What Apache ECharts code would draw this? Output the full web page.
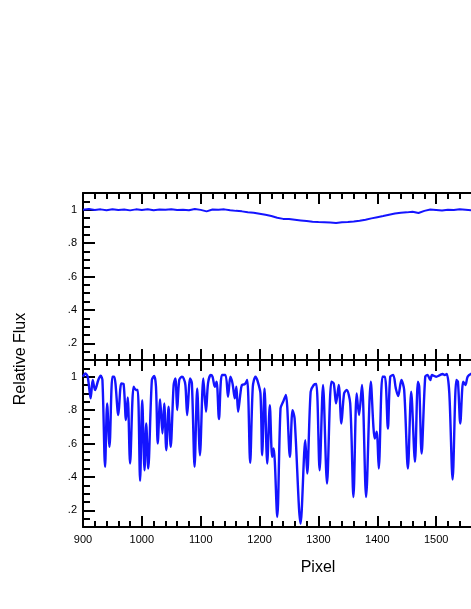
<!DOCTYPE html>
<html>
<head>
<meta charset="utf-8">
<script src="https://cdn.jsdelivr.net/npm/echarts@6/dist/echarts.min.js"></script>
<style>
  html, body { margin: 0; padding: 0; background: #fff; }
  #main { width: 471px; height: 609px; }
</style>
</head>
<body>
<div id="main"></div>
<script>
// upper panel: continuum-normalised flux, sampled every 10 px starting at 900
var topStart = 900;
var topStep = 10;
var topFlux = [
  1.000, 1.004, 0.998, 1.002, 0.997, 1.003, 0.998, 1.001, 0.996, 1.002,
  0.998, 1.003, 0.997, 1.001, 0.999, 1.003, 0.998, 1.000, 0.997, 1.004,
  0.999, 0.990, 1.001, 1.000, 1.002, 0.997, 0.993, 0.990, 0.985, 0.982,
  0.976, 0.970, 0.962, 0.952, 0.945, 0.944, 0.940, 0.936, 0.932, 0.928,
  0.926, 0.925, 0.923, 0.921, 0.925, 0.927, 0.930, 0.934, 0.940, 0.948,
  0.955, 0.962, 0.970, 0.977, 0.982, 0.984, 0.988, 0.980, 0.993, 1.001,
  0.998, 0.995, 1.000, 0.998, 1.003, 1.000, 0.997
];

// lower panel: spectrum with absorption lines
var botPixel = [
  900, 904, 908, 913, 916.5, 920.5, 926, 930, 933, 937.5, 941, 945, 950, 953,
  960, 965, 969, 973, 976, 980, 986, 990, 993, 997, 1000.6, 1004.5, 1007.4,
  1010.8, 1017, 1021, 1024, 1027, 1031, 1035, 1038, 1041.5, 1045.4, 1049,
  1054, 1057, 1060, 1063.5, 1068, 1071, 1074, 1077, 1082, 1085, 1089.6, 1094,
  1098.7, 1104.4, 1109, 1112.4, 1117, 1120, 1124, 1127, 1131, 1136, 1142,
  1146.4, 1150.4, 1154, 1158, 1160.6, 1163.5, 1167.5, 1170, 1175, 1179, 1184,
  1188.5, 1193, 1197, 1201.5, 1204.4, 1208.4, 1213, 1217.4, 1221.4, 1224,
  1230, 1235.6, 1240, 1244.7, 1251.5, 1256, 1259.5, 1269.7, 1277.7, 1281,
  1286.8, 1292, 1296.4, 1302, 1307.8, 1314.6, 1322, 1326, 1330, 1334.5, 1339,
  1343.6, 1348, 1354, 1359.5, 1365, 1369, 1374, 1381, 1389, 1395.7, 1399,
  1402.5, 1408.8, 1413, 1418, 1422, 1427, 1431.5, 1435.5, 1441, 1445.7, 1452,
  1457.6, 1464, 1469, 1471.3, 1475.3, 1481.5, 1485.5, 1490, 1493, 1500,
  1506.5, 1511, 1514.5, 1518, 1522.4, 1528, 1534.3, 1537, 1541, 1546, 1549.7,
  1553.6, 1561
];
var botFlux = [
  1.0, 1.02, 1.0, 0.87, 0.98, 0.92, 0.98, 1.006, 0.98, 0.46, 0.84, 0.58, 1.0, 1.0,
  0.77, 0.96, 0.956, 0.74, 0.876, 0.48, 0.94, 0.92, 0.92, 0.376, 0.86, 0.44, 0.72,
  0.45, 0.98, 1.004, 0.94, 0.6, 0.864, 0.66, 0.84, 0.56, 0.82, 0.58,
  0.95, 0.99, 0.8, 0.98, 1.0, 0.99, 0.95, 0.77, 0.99, 0.96, 0.46, 0.93,
  0.53, 0.99, 0.79, 0.96, 1.01, 1.0, 0.94, 0.97, 0.746, 1.01, 1.01,
  0.88, 1.0, 0.96, 0.87, 0.94, 0.79, 0.9, 0.95, 0.956, 0.98, 0.484,
  0.94, 1.0, 0.97, 0.9, 0.53, 0.93, 0.48, 0.83, 0.52, 0.57,
  0.16, 0.81, 0.85, 0.89, 0.52, 0.8, 0.75, 0.12, 0.62, 0.42,
  0.91, 0.95, 0.956, 0.44, 0.95, 0.36, 0.97, 0.96, 0.84, 0.95, 0.72,
  0.9, 0.92, 0.84, 0.28, 0.9, 0.77, 0.95, 0.28, 0.97, 0.63, 0.67,
  0.45, 1.0, 1.0, 0.69, 1.0, 1.01, 0.93, 0.884, 0.98, 0.92, 0.45,
  0.91, 0.49, 0.97, 0.94, 0.54, 1.0, 1.01, 0.98, 1.01, 1.0,
  1.01, 1.016, 1.01, 1.016, 0.9, 0.384, 0.98, 0.97, 0.72, 0.97, 0.95,
  1.0, 1.02
];

var yLabelValues = [0.2, 0.4, 0.6, 0.8, 1.0];

var lineColor = '#1414ff';
var font = '"Liberation Sans", Arial, sans-serif';

var topData = topFlux.map(function (v, i) { return [topStart + i * topStep, v]; });
var botData = botPixel.map(function (p, i) { return [p, botFlux[i]]; });

function xAx(grid, pos, labels) {
  return {
    type: 'value', gridIndex: grid, position: pos,
    min: 900, max: 1600, interval: 100,
    axisLine: { show: true, onZero: false, lineStyle: { color: '#000', width: 2 } },
    axisTick: { show: true, inside: true, length: 11, lineStyle: { color: '#000', width: 2 } },
    minorTick: { show: true, splitNumber: 5, length: 6, lineStyle: { color: '#000', width: 2 } },
    axisLabel: { show: labels, color: '#000', fontSize: 11, fontFamily: font, margin: 7,
      formatter: function (v) { return String(v); } },
    splitLine: { show: false }
  };
}
function yMinor(grid) {
  return {
    type: 'value', gridIndex: grid, position: 'left',
    min: 0.1, max: 1.1, interval: 0.05,
    axisLine: { show: true, onZero: false, lineStyle: { color: '#000', width: 2 } },
    axisTick: { show: true, inside: true, length: 7, lineStyle: { color: '#000', width: 2 } },
    axisLabel: { show: false },
    splitLine: { show: false }
  };
}
function yMajor(grid) {
  return {
    type: 'value', gridIndex: grid, position: 'left', offset: 0,
    min: 0.1, max: 1.1,
    axisLine: { show: false },
    axisTick: { show: true, inside: true, length: 12, customValues: yLabelValues,
      lineStyle: { color: '#000', width: 2 } },
    axisLabel: { show: true, customValues: yLabelValues, color: '#000', fontSize: 11,
      fontFamily: font, margin: 6,
      formatter: function (v) { return v >= 1 ? '1' : String(v).replace(/^0/, ''); } },
    splitLine: { show: false }
  };
}

var myChart = echarts.init(document.getElementById('main'));
var option = {
  animation: false,
  backgroundColor: '#fff',
  grid: [
    { left: 83, top: 193, height: 167, width: 412, outerBoundsMode: 'none', containLabel: false },
    { left: 83, top: 360, height: 167, width: 412, outerBoundsMode: 'none', containLabel: false }
  ],
  xAxis: [
    xAx(0, 'bottom', false),
    xAx(0, 'top', false),
    xAx(1, 'top', false),
    xAx(1, 'bottom', true)
  ],
  yAxis: [yMinor(0), yMajor(0), yMinor(1), yMajor(1)],
  graphic: [
    { type: 'text', x: 21, y: 359, rotation: Math.PI / 2,
      style: { text: 'Relative Flux', font: '16px ' + font, fill: '#000',
        textAlign: 'center', textVerticalAlign: 'middle' } },
    { type: 'text', x: 318, y: 568,
      style: { text: 'Pixel', font: '16px ' + font, fill: '#000',
        textAlign: 'center', textVerticalAlign: 'middle' } }
  ],
  series: [
    {
      type: 'line', xAxisIndex: 0, yAxisIndex: 0, data: topData,
      showSymbol: false, lineStyle: { color: lineColor, width: 2 }
    },
    {
      type: 'line', xAxisIndex: 3, yAxisIndex: 2, data: botData,
      showSymbol: false, smooth: 0.3, lineStyle: { color: lineColor, width: 2.4 }
    }
  ]
};
myChart.setOption(option);
</script>
</body>
</html>
